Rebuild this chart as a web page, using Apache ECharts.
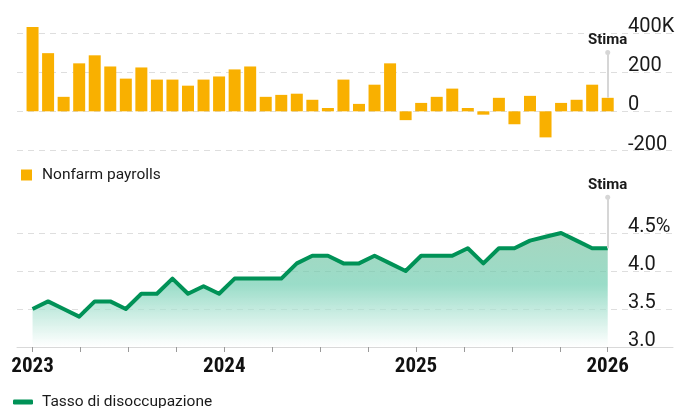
<!DOCTYPE html>
<html>
<head>
<meta charset="utf-8">
<script src="https://cdn.jsdelivr.net/npm/echarts@6/dist/echarts.min.js"></script>
<style>
  html, body { margin: 0; padding: 0; background: #fff; }
  #chart { width: 689px; height: 408px; }
</style>
</head>
<body>
<div id="chart"></div>
<script>
// nonfarm payrolls, thousands (one bar per month)
const payrolls = [430, 297, 74, 245, 286, 229, 167, 224, 162, 162, 131, 162, 178, 214, 229, 74, 84, 90, 59, 17,
    162, 38, 136, 245, -45, 43, 74, 116, 17, -17, 69, -66, 79, -133, 43, 59, 136, 69];
// unemployment rate, %
const unemployment = [3.5, 3.6, 3.5, 3.4, 3.6, 3.6, 3.5, 3.7, 3.7, 3.9, 3.7, 3.8, 3.7, 3.9, 3.9, 3.9, 3.9, 4.1, 4.2,
    4.2, 4.1, 4.1, 4.2, 4.1, 4.0, 4.2, 4.2, 4.2, 4.3, 4.1, 4.3, 4.3, 4.4, 4.45, 4.5, 4.4, 4.3, 4.3];
const yearLabels = ['2023', '2024', '2025', '2026'];
const payrollTicks = [-200, 0, 200, 400];
const rateTicks = [3.0, 3.5, 4.0, 4.5];
const stimaPayroll = 300;
const stimaRate = 4.97;

const n = payrolls.length;
const last = n - 1;
const yearStep = last / 3;
const quarterTicks = [];
for (let i = 0; i <= 12; i++) quarterTicks.push(i * yearStep / 4);
const yearValues = yearLabels.map((y, i) => i * yearStep);

const numFont = 'Roboto, "Noto Sans", sans-serif';
const condFont = '"Liberation Sans Narrow", "Roboto Condensed", Roboto, sans-serif';

const dashed = { show: true, lineStyle: { color: '#dedede', width: 1, type: [6, 5] } };

const stimaLabel = {
    show: true,
    position: 'end',
    formatter: 'Stima',
    color: '#1a1a1a',
    fontWeight: 'bold',
    fontSize: 15,
    fontFamily: numFont,
    distance: 5
};

let chart = echarts.init(document.getElementById('chart'));
chart.setOption({
    animation: false,
    grid: [
        { left: 17, right: 16, top: 13.4, bottom: 257.5 },
        { left: 17, right: 16, top: 195, bottom: 61 }
    ],
    legend: [
        {
            data: [{ name: 'Nonfarm payrolls', icon: 'rect' }],
            left: 21, top: 167, padding: 0,
            itemWidth: 11, itemHeight: 11,
            textStyle: { color: '#1a1a1a', fontSize: 15.5, fontFamily: numFont, padding: [0, 0, 0, 5] },
            selectedMode: false
        },
        {
            data: [{ name: 'Tasso di disoccupazione', icon: 'roundRect' }],
            left: 13, top: 394, padding: 0,
            itemWidth: 20, itemHeight: 5,
            textStyle: { color: '#1a1a1a', fontSize: 15.5, fontFamily: numFont, padding: [0, 0, 0, 4] },
            selectedMode: false
        }
    ],
    xAxis: [
        { type: 'value', gridIndex: 0, min: -1, max: 41.2, show: false, splitLine: { show: false } },
        {
            type: 'value', gridIndex: 1, min: -1, max: 41.2,
            splitLine: { show: false },
            axisLine: { show: true, lineStyle: { color: '#d9d9d9', width: 1 } },
            axisTick: { show: true, customValues: quarterTicks, length: 5, lineStyle: { color: '#9a9a9a' } },
            axisLabel: {
                customValues: yearValues,
                formatter: v => yearLabels[Math.round(v / yearStep)],
                color: '#111', fontWeight: 'bold', fontSize: 21, fontFamily: condFont, margin: 9
            }
        }
    ],
    yAxis: [
        {
            type: 'value', gridIndex: 0, position: 'right',
            min: payrollTicks[0], max: 500, interval: 200,
            axisLine: { show: false }, axisTick: { show: false },
            splitLine: Object.assign({ showMaxLine: false, showMinLine: true }, dashed),
            axisLabel: {
                inside: true, align: 'left', verticalAlign: 'bottom', margin: 45,
                showMaxLabel: false, showMinLabel: true,
                formatter: v => (v === payrollTicks[3] ? v + 'K' : String(v)),
                color: '#1a1a1a', fontSize: 20, fontFamily: numFont, lineHeight: 12
            }
        },
        {
            type: 'value', gridIndex: 1, position: 'right',
            min: rateTicks[0], max: 5.0, interval: 0.5,
            axisLine: { show: false }, axisTick: { show: false },
            splitLine: Object.assign({ showMaxLine: false, showMinLine: false }, dashed),
            axisLabel: {
                inside: true, align: 'left', verticalAlign: 'bottom', margin: 45,
                showMaxLabel: false, showMinLabel: true,
                formatter: v => (v === rateTicks[3] ? v.toFixed(1) + '%' : v.toFixed(1)),
                color: '#1a1a1a', fontSize: 20, fontFamily: numFont, lineHeight: 12
            }
        }
    ],
    series: [
        {
            name: 'Nonfarm payrolls',
            type: 'bar',
            xAxisIndex: 0, yAxisIndex: 0,
            barWidth: 12,
            itemStyle: { color: '#f9b000' },
            data: payrolls.map((v, i) => [i, v]),
            markLine: {
                silent: true,
                symbol: ['none', 'circle'],
                symbolSize: 5,
                lineStyle: { color: '#d6d6d6', width: 2, type: 'solid' },
                itemStyle: { color: '#d6d6d6' },
                label: stimaLabel,
                data: [[{ coord: [last, payrolls[last]] }, { coord: [last, stimaPayroll] }]]
            }
        },
        {
            name: 'Tasso di disoccupazione',
            type: 'line',
            xAxisIndex: 1, yAxisIndex: 1,
            symbol: 'none',
            lineStyle: { color: '#009257', width: 4, join: 'round' },
            itemStyle: { color: '#009257' },
            areaStyle: {
                color: {
                    type: 'linear', x: 0, y: 0, x2: 0, y2: 1,
                    colorStops: [
                        { offset: 0, color: '#7fc3a3' },
                        { offset: 0.45, color: '#6ecdb0' },
                        { offset: 1, color: 'rgba(255,255,255,0.95)' }
                    ]
                }
            },
            data: unemployment.map((v, i) => [i, v]),
            markLine: {
                silent: true,
                symbol: ['none', 'circle'],
                symbolSize: 5,
                lineStyle: { color: '#d6d6d6', width: 2, type: 'solid' },
                itemStyle: { color: '#d6d6d6' },
                label: stimaLabel,
                data: [[{ coord: [last, unemployment[last]] }, { coord: [last, stimaRate] }]]
            }
        }
    ]
});
</script>
</body>
</html>
